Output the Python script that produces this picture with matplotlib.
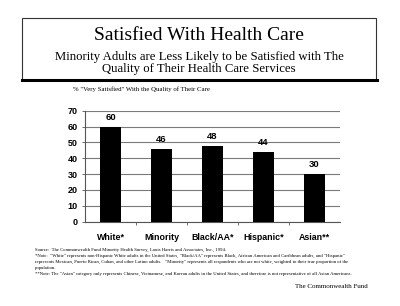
import matplotlib
matplotlib.use('Agg')
import matplotlib.pyplot as plt
from matplotlib import font_manager
from matplotlib.lines import Line2D
from matplotlib.patches import Rectangle

categories = ['White*', 'Minority', 'Black/AA*', 'Hispanic*', 'Asian**']
values = [60, 46, 48, 44, 30]
yticks = [0, 10, 20, 30, 40, 50, 60, 70]

title = 'Satisfied With Health Care'
subtitle = 'Minority Adults are Less Likely to be Satisfied with The\nQuality of Their Health Care Services'
ylabel = '% "Very Satisfied" With the Quality of Their Care'
notes = [
    'Source:  The Commonwealth Fund Minority Health Survey, Louis Harris and Associates, Inc., 1994.',
    '*Note:  "White" represents non-Hispanic White adults in the United States, "Black/AA" represents Black, African American and Caribbean adults, and "Hispanic"',
    'represents Mexican, Puerto Rican, Cuban, and other Latino adults.   "Minority" represents all respondents who are not white, weighted to their true proportion of the',
    'population.',
    '**Note: The "Asian" category only represents Chinese, Vietnamese, and Korean adults in the United States, and therefore is not representative of all Asian Americans.',
]
credit = 'The Commonwealth Fund'

serif_path = font_manager.findfont(font_manager.FontProperties(family='Liberation Serif'))
sans = 'Liberation Sans'

def sf(size):
    return font_manager.FontProperties(fname=serif_path, size=size)

W, H = 400, 306
fig = plt.figure(figsize=(W / 100, H / 100), dpi=100)
fig.patch.set_facecolor('white')

def fx(px): return px / W
def fy(py): return 1 - py / H

# title box
fig.patches.append(Rectangle((fx(22), fy(80)), fx(376) - fx(22), fy(18) - fy(80),
                             transform=fig.transFigure, fill=False, ec='#333333', lw=0.8))
fig.lines.append(Line2D([fx(22), fx(377)], [fy(80), fy(80)], transform=fig.transFigure,
                        color='black', lw=2.2))
fig.text(fx(199), fy(35), title, ha='center', va='center', fontproperties=sf(14))
fig.text(fx(199), fy(63), subtitle, ha='center', va='center', fontproperties=sf(9.2),
         linespacing=1.1)
fig.text(fx(73), fy(89.5), ylabel, ha='left', va='center', fontproperties=sf(4.9))

# chart
ax = fig.add_axes([fx(85), fy(221.7), fx(340) - fx(85), fy(110.7) - fy(221.7)])
x = range(len(categories))
ax.bar(x, values, width=0.42, color='black', zorder=3)
ax.set_xlim(-0.5, len(categories) - 0.5)
ax.set_ylim(0, 70)
ax.set_yticks(yticks)
ax.set_yticklabels([str(t) for t in yticks], family=sans, fontweight='bold', fontsize=6.5)
ax.yaxis.grid(True, color='#7a7a7a', lw=0.8, zorder=0)
ax.set_xticks([i + 0.5 for i in range(len(categories) - 1)])
ax.set_xticklabels([])
ax.set_xticks(list(x), minor=True)
ax.set_xticklabels(categories, minor=True, family=sans, fontweight='bold', fontsize=6.4)
ax.tick_params(axis='x', which='minor', length=0, pad=8)
ax.tick_params(axis='x', which='major', length=2.5, width=0.6, direction='out', color='#555555')
ax.tick_params(axis='y', length=2.5, width=0.6, pad=3, color='#555555')
for s in ['top', 'right']:
    ax.spines[s].set_visible(False)
for s in ['left', 'bottom']:
    ax.spines[s].set_linewidth(0.8)
    ax.spines[s].set_color('#555555')
for i, v in enumerate(values):
    ax.text(i, v + 3, str(v), ha='center', va='bottom', family=sans, fontweight='bold',
            fontsize=6.8)

# footnotes
ys = [249.5, 255.5, 262, 267.5, 274]
for t, yy in zip(notes, ys):
    fig.text(fx(35), fy(yy), t, ha='left', va='center', fontproperties=sf(3.45))
fig.text(fx(368), fy(286), credit, ha='right', va='center', fontproperties=sf(5.0))

fig.savefig('out.png', dpi=100, facecolor='white')
